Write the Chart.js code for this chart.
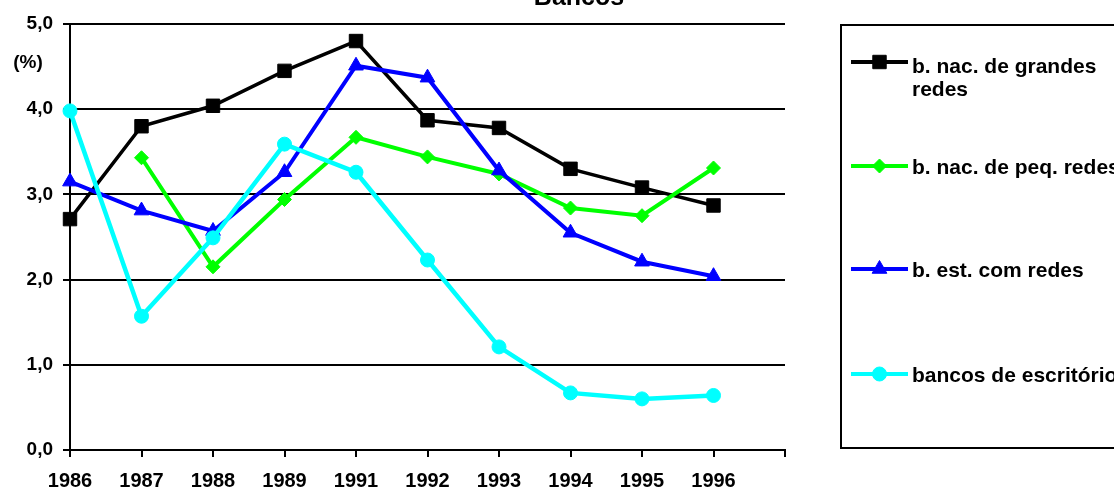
<!DOCTYPE html>
<html>
<head>
<meta charset="utf-8">
<script src="https://cdn.jsdelivr.net/npm/chart.js@4.4.1/dist/chart.umd.min.js"></script>
<style>
  html, body { margin: 0; padding: 0; background: #ffffff; }
  #wrap { width: 1114px; height: 491px; position: relative; overflow: hidden; }
</style>
</head>
<body>
<div id="wrap"><canvas id="chart" width="1114" height="491"></canvas></div>
<script>
// Years on the horizontal axis (1990 is not part of the series)
const categories = ['1986', '1987', '1988', '1989', '1991', '1992', '1993', '1994', '1995', '1996'];
// One blank slot closes the axis after 1996
const xTickLabels = [...categories, ''];
const yTickLabels = ['0,0', '1,0', '2,0', '3,0', '4,0', '5,0'];

// Series (%)
const grandesRedes = [2.71, 3.80, 4.04, 4.45, 4.80, 3.87, 3.78, 3.30, 3.08, 2.87];
const peqRedes     = [null, 3.43, 2.15, 2.94, 3.67, 3.44, 3.24, 2.84, 2.75, 3.31];
const estComRedes  = [3.15, 2.81, 2.57, 3.26, 4.51, 4.37, 3.28, 2.55, 2.21, 2.04];
const escritorios  = [3.98, 1.57, 2.49, 3.59, 3.26, 2.23, 1.21, 0.67, 0.60, 0.64];

const seriesNames = [
  ['b. nac. de grandes', 'redes'],
  ['b. nac. de peq. redes'],
  ['b. est. com redes'],
  ['bancos de escritórios']
];

const FONT = '"Liberation Sans", Arial, Helvetica, sans-serif';

function series(name, data, color, pointStyle, radius, width, order) {
  return {
    label: name.join(' '),
    data: data,
    borderColor: color,
    backgroundColor: color,
    pointBackgroundColor: color,
    pointBorderColor: color,
    borderWidth: width,
    pointStyle: pointStyle,
    pointRadius: radius,
    pointHoverRadius: radius,
    pointBorderWidth: 1,
    tension: 0,
    order: order,
    spanGaps: false
  };
}

const datasets = [
  series(seriesNames[0], grandesRedes, '#000000', 'rect', 9.5, 3.5, 4),
  series(seriesNames[1], peqRedes, '#00ff00', 'rectRot', 7, 4, 3),
  series(seriesNames[2], estComRedes, '#0000ff', 'triangle', 8.5, 4, 2),
  series(seriesNames[3], escritorios, '#00ffff', 'circle', 7, 4.5, 1)
];

function drawMarker(ctx, style, r, x, y, color) {
  ctx.save();
  ctx.fillStyle = color;
  ctx.strokeStyle = color;
  ctx.lineWidth = 1;
  ctx.beginPath();
  if (style === 'rect') {
    const s = Math.SQRT1_2 * r;
    ctx.rect(x - s, y - s, 2 * s, 2 * s);
  } else if (style === 'rectRot') {
    ctx.moveTo(x - r, y); ctx.lineTo(x, y - r); ctx.lineTo(x + r, y); ctx.lineTo(x, y + r);
    ctx.closePath();
  } else if (style === 'triangle') {
    let a = 0;
    ctx.moveTo(x + Math.sin(a) * r, y - Math.cos(a) * r);
    a += 2 * Math.PI / 3;
    ctx.lineTo(x + Math.sin(a) * r, y - Math.cos(a) * r);
    a += 2 * Math.PI / 3;
    ctx.lineTo(x + Math.sin(a) * r, y - Math.cos(a) * r);
    ctx.closePath();
  } else {
    ctx.arc(x, y, r, 0, Math.PI * 2);
  }
  ctx.fill();
  ctx.stroke();
  ctx.restore();
}

// Title, unit label and the boxed legend on the right
const decorations = {
  id: 'decorations',
  afterDraw(chart) {
    const ctx = chart.ctx;
    ctx.save();
    ctx.fillStyle = '#000000';
    ctx.textAlign = 'center';
    ctx.textBaseline = 'alphabetic';
    ctx.font = 'bold 25px ' + FONT;
    ctx.fillText('Bancos', 579, 5);

    ctx.font = 'bold 19px ' + FONT;
    ctx.textBaseline = 'middle';
    ctx.fillText('(%)', 28, 63);

    // legend box
    ctx.lineWidth = 2;
    ctx.strokeStyle = '#000000';
    ctx.strokeRect(841, 25, 300, 423);

    const rows = [62, 166, 269, 374];
    ctx.font = 'bold 21px ' + FONT;
    ctx.textAlign = 'left';
    chart.data.datasets.forEach((ds, i) => {
      const y = rows[i];
      ctx.save();
      ctx.strokeStyle = ds.borderColor;
      ctx.lineWidth = 4;
      ctx.beginPath();
      ctx.moveTo(851, y);
      ctx.lineTo(908, y);
      ctx.stroke();
      ctx.restore();
      drawMarker(ctx, ds.pointStyle, ds.pointRadius, 879.5, y, ds.pointBackgroundColor);
      ctx.fillStyle = '#000000';
      const lines = seriesNames[i];
      const top = lines.length > 1 ? y + 5 : y + 2;
      lines.forEach((t, k) => ctx.fillText(t, 912, top + k * 23));
    });
    ctx.restore();
  }
};

new Chart(document.getElementById('chart'), {
  type: 'line',
  data: { labels: xTickLabels, datasets: datasets },
  options: {
    responsive: false,
    animation: false,
    events: [],
    layout: { padding: { left: 0, right: 329, top: 24, bottom: 0 } },
    plugins: {
      legend: { display: false },
      title: { display: false },
      tooltip: { enabled: false }
    },
    scales: {
      x: {
        type: 'category',
        offset: false,
        afterFit(scale) { scale.height = 41; },
        grid: {
          drawOnChartArea: false,
          drawTicks: true,
          tickLength: 7,
          color: '#000000',
          lineWidth: 2
        },
        border: { display: true, color: '#000000', width: 2 },
        ticks: {
          autoSkip: false,
          maxRotation: 0,
          minRotation: 0,
          padding: 12,
          color: '#000000',
          font: { family: FONT, size: 20, weight: 'bold' }
        }
      },
      y: {
        min: 0,
        max: 5,
        afterFit(scale) { scale.width = 70; },
        grid: {
          drawOnChartArea: true,
          drawTicks: true,
          tickLength: 7,
          color: '#000000',
          lineWidth: 2
        },
        border: { display: true, color: '#000000', width: 2 },
        ticks: {
          stepSize: 1,
          padding: 10,
          color: '#000000',
          font: { family: FONT, size: 19, weight: 'bold' },
          callback: (v, i) => yTickLabels[i]
        }
      }
    }
  },
  plugins: [decorations]
});
</script>
</body>
</html>
